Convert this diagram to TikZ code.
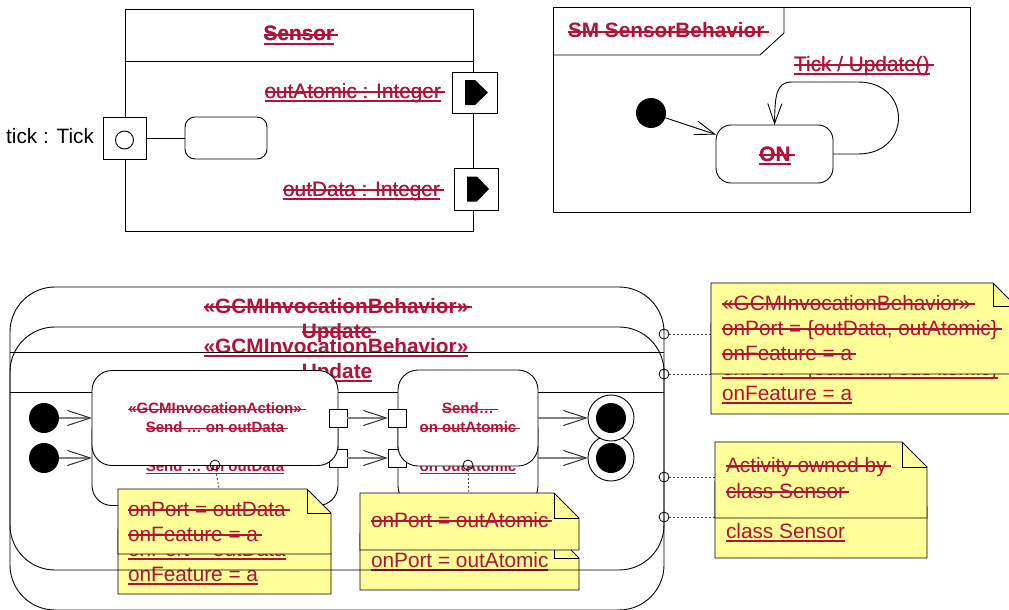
\documentclass[tikz,border=0pt]{standalone}
\usepackage{fontspec}
\setmainfont{Liberation Sans}
\usetikzlibrary{arrows.meta}
\definecolor{chg}{RGB}{178,18,56}
\definecolor{noteyel}{RGB}{255,255,153}
\definecolor{flowgray}{RGB}{128,128,128}
\newsavebox{\decobox}
\newcommand{\stk}[1]{\sbox{\decobox}{#1}\rlap{\rule[0.25em]{\dimexpr\wd\decobox+4pt\relax}{1.5pt}}\usebox{\decobox}}
\newcommand{\und}[1]{\sbox{\decobox}{#1}\rlap{\usebox{\decobox}}\rule[-0.17em]{\wd\decobox}{1.5pt}}
\newcommand{\fmain}{\fontsize{20.8}{25}\selectfont}
\newcommand{\fsmall}{\fontsize{15}{19}\selectfont\bfseries}
\newcommand{\dc}{}
\newcommand{\foldnote}[2]{%
  \filldraw[notebg] (#1.south west) -- (#1.north west) -- ([xshift=-#2pt]#1.north east) -- ([yshift=-#2pt]#1.north east) -- (#1.south east) -- cycle;
  \draw[ln] ([xshift=-#2pt]#1.north east) |- ([yshift=-#2pt]#1.north east);
}
\newcommand{\activity}{%
  \node[frm, minimum width=654pt, minimum height=283pt, anchor=north west] (fr) at (10,287) {};
  \coordinate (sepL) at (10,352);
  \coordinate (sepR) at (664,352);
  \draw[ln] (sepL) -- (sepR);
  \node[ctb, anchor=base] (tt1) at (336,313) {\dc{«GCMInvocationBehavior»}};
  \node[ctb, anchor=base] (tt2) at (337,338) {\dc{Update}};
  \node[init] (i1) at (44,418) {};
  \node[action, minimum width=246pt, minimum height=95pt] (a1) at (215,418) {\dc{«GCMInvocationAction»}\\\dc{Send … on outData}};
  \node[action, minimum width=140pt, minimum height=96pt] (a2) at (468,418) {\dc{Send…}\\\dc{on outAtomic}};
  \node[pinb] (p1) at (338,418) {};
  \node[pinb] (p2) at (397,418) {};
  \node[fnl] (f1) at (611,418) {};
  \node[fnlin] (f1i) at (611,418) {};
  \draw[flow] (i1) -- (a1);
  \draw[flow] (p1) -- (p2);
  \draw[flow] (a2) -- (f1);
  \node[anc] (c1) at (215,465) {};
  \node[anc] (c2) at (468,465) {};
  \node[anc] (c3) at (664,334) {};
  \node[anc] (c4) at (664,477) {};
  % note 1
  \node[nb, minimum width=213pt, minimum height=65pt, anchor=north west] (n1) at (118,489) {};
  \foldnote{n1}{24}
  \node[ct, anchor=base west] (n1a) at (128,516) {\dc{onPort = outData}};
  \node[ct, anchor=base west] (n1b) at (128,541) {\dc{onFeature = a}};
  \draw[dot] (c1) -- (n1);
  % note 2
  \node[nb, minimum width=219pt, minimum height=57pt, anchor=north west] (n2) at (360,493) {};
  \foldnote{n2}{25}
  \node[ct, anchor=base west] (n2a) at (371,527) {\dc{onPort = outAtomic}};
  \draw[dot] (c2) -- (n2);
  % note 3
  \node[nb, minimum width=305pt, minimum height=91pt, anchor=north west] (n3) at (711,283) {};
  \foldnote{n3}{23}
  \node[ct, anchor=base west] (n3a) at (722,310) {\dc{«GCMInvocationBehavior»}};
  \node[ct, anchor=base west] (n3b) at (722,335) {\dc{onPort = \{outData, outAtomic\}}};
  \node[ct, anchor=base west] (n3c) at (722,360) {\dc{onFeature = a}};
  \draw[dot] (c3) -- (c3 -| n3.west);
  % note 4
  \node[nb, minimum width=212pt, minimum height=76pt, anchor=north west] (n4) at (715,442) {};
  \foldnote{n4}{25}
  \node[ct, anchor=base west] (n4a) at (726,472) {\dc{Activity owned by}};
  \node[ct, anchor=base west] (n4b) at (726,498) {\dc{class Sensor}};
  \draw[dot] (c4) -- (c4 -| n4.west);
}
\begin{document}
\begin{tikzpicture}[x=1pt, y=-1pt,
  every node/.style={inner sep=0pt, outer sep=0pt},
  ln/.style={draw=black, line width=0.9pt},
  ct/.style={text=chg, font=\fmain},
  ctb/.style={text=chg, font=\fmain\bfseries},
  frm/.style={draw=black, line width=0.9pt, rounded corners=45pt, rectangle},
  action/.style={draw=black, line width=0.9pt, fill=white, rounded corners=20pt, rectangle, align=center, text=chg, font=\fsmall},
  pinb/.style={draw=black, line width=0.9pt, fill=white, rectangle, minimum size=18pt},
  init/.style={circle, fill=black, minimum size=30pt},
  fnl/.style={circle, draw=black, line width=0.9pt, fill=white, minimum size=46pt},
  fnlin/.style={circle, fill=black, minimum size=30pt},
  anc/.style={circle, draw=black, line width=0.8pt, minimum size=10pt},
  nb/.style={rectangle},
  notebg/.style={fill=noteyel, draw=black, line width=0.9pt},
  dot/.style={draw=black!75, line width=0.8pt, dash pattern=on 2pt off 2pt},
  flow/.style={draw=flowgray, line width=1.8pt, -{Straight Barb[length=23pt, width=15pt, line width=1pt, color=black!80]}},
  tr/.style={draw=black, line width=0.9pt, -{Straight Barb[length=20pt, width=14pt, line width=0.9pt]}},
  port/.style={draw=black, line width=0.9pt, fill=white, rectangle},
  cls/.style={draw=black, line width=0.9pt, rectangle}
]
\useasboundingbox (0,0) rectangle (1009,610);
\fill[white] (0,0) rectangle (1009,610);

% ---------- Sensor class ----------
\node[cls, minimum width=348pt, minimum height=222pt, anchor=north west] (cl) at (125,9) {};
\coordinate (clsL) at (125,61);
\coordinate (clsR) at (473,61);
\draw[ln] (clsL) -- (clsR);
\node[ctb, anchor=base] (clt) at (299,41) {\stk{Sensor}};
\node[ctb, anchor=base] (cltu) at (299,41) {\und{Sensor}};
\node[draw=black, line width=0.9pt, rounded corners=10pt, minimum width=82pt, minimum height=42pt] (part) at (226,138) {};
\node[port, minimum width=43pt, minimum height=42pt] (pt) at (124.5,138) {};
\node[circle, draw=black, line width=0.9pt, minimum size=18pt] (ptc) at (124.5,140) {};
\draw[ln] (pt) -- (part);
\node[font=\fmain, anchor=base east] (ptl) at (94,143) {tick : Tick};
\node[port, minimum width=45pt, minimum height=41pt] (po1) at (474.5,92.5) {};
\fill[black] (465,80) -- (475,80) -- (488,92.5) -- (475,105) -- (465,105) -- cycle;
\node[port, minimum width=44pt, minimum height=42pt] (po2) at (476,189) {};
\fill[black] (467,176.5) -- (477,176.5) -- (489,189) -- (477,201.5) -- (467,201.5) -- cycle;
\node[ct, anchor=base east] (po1l) at (441,98) {\stk{outAtomic : Integer}};
\node[ct, anchor=base east] (po1u) at (441,98) {\und{outAtomic : Integer}};
\node[ct, anchor=base east] (po2l) at (440,196) {\stk{outData : Integer}};
\node[ct, anchor=base east] (po2u) at (440,196) {\und{outData : Integer}};

% ---------- State machine ----------
\node[cls, minimum width=417pt, minimum height=205pt, anchor=north west] (sm) at (553,7) {};
\coordinate (tabA) at (553,55);
\coordinate (tabB) at (760,55);
\coordinate (tabC) at (784,33);
\coordinate (tabD) at (784,7);
\draw[ln] (tabA) -- (tabB) -- (tabC) -- (tabD);
\node[ctb, anchor=base west] (smt) at (568,38) {\stk{SM SensorBehavior}};
\node[init] (si) at (651,113) {};
\node[draw=black, line width=0.9pt, rounded corners=15pt, minimum width=117pt, minimum height=58pt] (on) at (774.5,154) {};
\node[ctb, anchor=base] (ont) at (775,161) {\stk{ON}};
\node[ctb, anchor=base] (onu) at (775,161) {\und{ON}};
\draw[tr] (si) -- (on);
\draw[tr] (on.east) -- (858,154) .. controls (912,154) and (912,82) .. (858,82) -- (792,82) .. controls (776,82) and (775,95) .. (on.north);
\node[ct, anchor=base] (trl) at (862,71) {\stk{Tick / Update()}};
\node[ct, anchor=base] (tru) at (862,71) {\und{Tick / Update()}};

% ---------- Activity: new version (underlined), shifted ----------
\begin{scope}[shift={(0,40)}, name prefix=new-]
\renewcommand{\dc}{\und}
\activity
\end{scope}
% ---------- Activity: old version (struck) ----------
\begin{scope}[name prefix=old-]
\renewcommand{\dc}{\stk}
\activity
\end{scope}
\end{tikzpicture}
\end{document}
